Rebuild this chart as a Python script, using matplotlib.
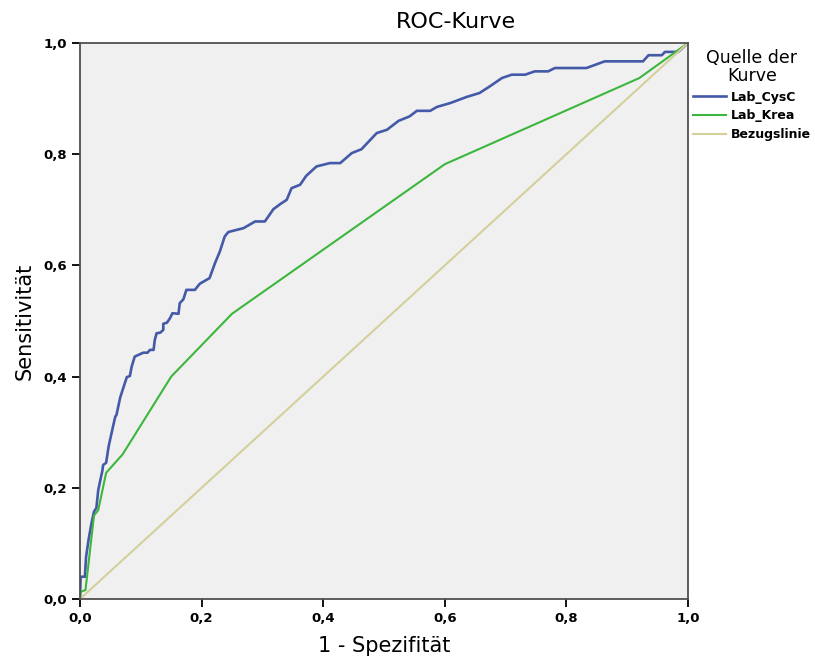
import numpy as np
import matplotlib.pyplot as plt
from matplotlib.ticker import FuncFormatter

plt.rcParams['font.family'] = ['DejaVu Sans']

# ROC-Kurve Lab_CysC (1 - Spezifität, Sensitivität)
cysc_x = [0.0, 0.001, 0.008, 0.010, 0.014, 0.019, 0.023, 0.027, 0.030, 0.037,
          0.038, 0.043, 0.047, 0.052, 0.058, 0.060, 0.066, 0.071, 0.077, 0.082,
          0.085, 0.090, 0.096, 0.104, 0.111, 0.115, 0.121, 0.123, 0.126, 0.132,
          0.137, 0.137, 0.143, 0.148, 0.152, 0.162, 0.164, 0.170, 0.175, 0.189,
          0.197, 0.208, 0.213, 0.222, 0.230, 0.238, 0.244, 0.258, 0.269, 0.288,
          0.304, 0.318, 0.329, 0.340, 0.348, 0.362, 0.372, 0.389, 0.411, 0.428,
          0.447, 0.463, 0.488, 0.505, 0.524, 0.542, 0.554, 0.576, 0.587, 0.609,
          0.636, 0.657, 0.674, 0.694, 0.710, 0.732, 0.748, 0.770, 0.781, 0.833,
          0.863, 0.926, 0.935, 0.957, 0.962, 0.984, 1.0]
cysc_y = [0.0, 0.040, 0.040, 0.076, 0.106, 0.137, 0.157, 0.164, 0.196, 0.232,
          0.241, 0.245, 0.274, 0.299, 0.328, 0.331, 0.362, 0.379, 0.399, 0.401,
          0.418, 0.436, 0.439, 0.443, 0.443, 0.448, 0.448, 0.466, 0.478, 0.479,
          0.484, 0.495, 0.497, 0.505, 0.514, 0.513, 0.532, 0.539, 0.556, 0.556,
          0.567, 0.574, 0.577, 0.604, 0.625, 0.652, 0.660, 0.664, 0.667, 0.679,
          0.679, 0.701, 0.710, 0.718, 0.739, 0.745, 0.761, 0.778, 0.784, 0.784,
          0.802, 0.809, 0.838, 0.844, 0.860, 0.868, 0.878, 0.878, 0.885, 0.892,
          0.903, 0.910, 0.922, 0.937, 0.943, 0.943, 0.949, 0.949, 0.955, 0.955,
          0.967, 0.967, 0.978, 0.978, 0.984, 0.984, 1.0]

# ROC-Kurve Lab_Krea
krea_x = [0.0, 0.001, 0.009, 0.023, 0.030, 0.043, 0.070, 0.150, 0.250, 0.600, 0.920, 1.0]
krea_y = [0.0, 0.013, 0.016, 0.150, 0.160, 0.227, 0.260, 0.400, 0.513, 0.782, 0.937, 1.0]

ref_x = [0.0, 1.0]
ref_y = [0.0, 1.0]

fig = plt.figure(figsize=(8.15, 6.59), dpi=100)
ax = fig.add_axes([80 / 815, 60 / 659, 608 / 815, 556 / 659])
ax.set_facecolor('#f0f0f0')

ax.plot(cysc_x, cysc_y, color='#4459a8', lw=1.9, label='Lab_CysC')
ax.plot(krea_x, krea_y, color='#3cb63c', lw=1.5, label='Lab_Krea')
ax.plot(ref_x, ref_y, color='#d4d09a', lw=1.5, label='Bezugslinie')

ax.set_xlim(0, 1)
ax.set_ylim(0, 1)
ticks = np.arange(0, 1.01, 0.2)
ax.set_xticks(ticks)
ax.set_yticks(ticks)
fmt = FuncFormatter(lambda v, p: ('%.1f' % v).replace('.', ','))
ax.xaxis.set_major_formatter(fmt)
ax.yaxis.set_major_formatter(fmt)
ax.tick_params(direction='out', length=6, width=1.3, labelsize=9.5, color='black')
for lbl in ax.get_xticklabels() + ax.get_yticklabels():
    lbl.set_fontweight('bold')
for s in ax.spines.values():
    s.set_color('#505050')
    s.set_linewidth(1.3)

fig.text(456 / 815, 1 - 22 / 659, 'ROC-Kurve', fontsize=16, ha='center', va='center')
ax.set_xlabel('1 - Spezifität', fontsize=15, labelpad=8)
ax.set_ylabel('Sensitivität', fontsize=15, labelpad=6)

leg = fig.legend(loc='upper left', bbox_to_anchor=(688 / 815, 1 - 44 / 659),
                 frameon=False, title='Quelle der\nKurve', title_fontsize=12.5,
                 fontsize=9, handlelength=2.6, handletextpad=0.4,
                 labelspacing=0.45, borderaxespad=0)
leg._legend_box.align = 'center'
for t in leg.get_texts():
    t.set_fontweight('bold')
leg.get_title().set_multialignment('center')
leg.get_title().set_linespacing(1.0)

fig.savefig('out.png', dpi=100)
